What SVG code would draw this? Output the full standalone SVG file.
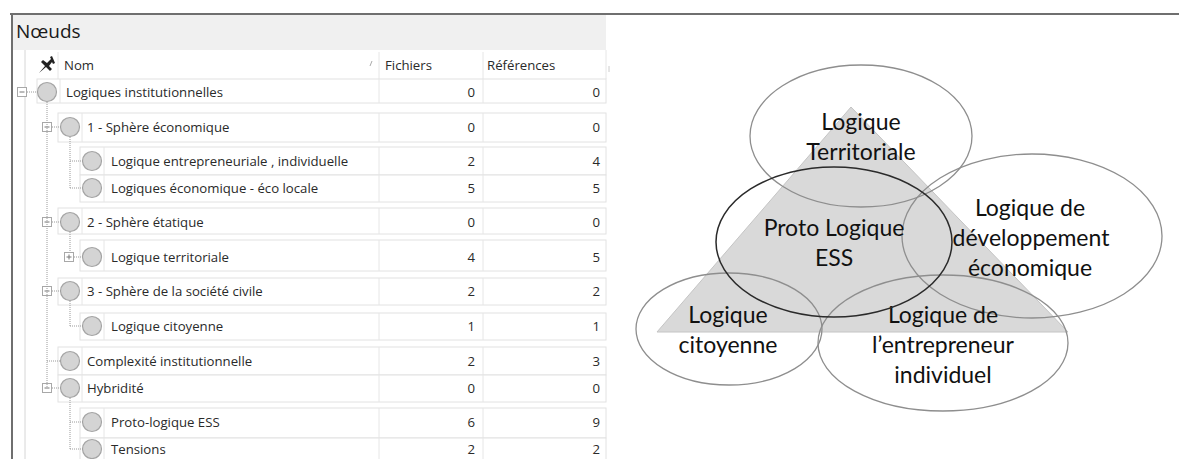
<svg xmlns="http://www.w3.org/2000/svg" width="1179" height="459" viewBox="0 0 1179 459">
<style>
.t{font-family:"Open Sans","Noto Sans",sans-serif;font-size:13.2px;fill:#2a2a2a}
.n{font-family:"Open Sans","Noto Sans",sans-serif;font-size:13.2px;fill:#2a2a2a;text-anchor:end}
.rb{fill:#fff;stroke:#e2e2e2;stroke-width:1}
.sep{stroke:#e6e6e6;stroke-width:1}
.ic{fill:#d4d4d4;stroke:#a4a4a4;stroke-width:1.2}
.ex{fill:#fff;stroke:#a8a8a8;stroke-width:1}
.exl{stroke:#777;stroke-width:1}
.tl{stroke:#9a9a9a;stroke-width:1;stroke-dasharray:1 1;fill:none}
.el{fill:none;stroke:#8e8e8e;stroke-width:1.3}
.lb{font-family:Lato,"Open Sans",sans-serif;font-size:23px;fill:#111;text-anchor:middle}
</style>
<rect width="1179" height="459" fill="#fff"/>
<!-- panel frame -->
<rect x="13" y="15" width="593" height="35" fill="#f0f0f0"/>
<line x1="10" y1="14" x2="1179" y2="14" stroke="#6f6f6f" stroke-width="2"/>
<line x1="12" y1="14" x2="12" y2="459" stroke="#6f6f6f" stroke-width="2"/>
<line x1="25" y1="50" x2="25" y2="459" stroke="#d6d6d6"/>
<text x="16" y="38" style="font-family:'Open Sans','Noto Sans',sans-serif;font-size:19px;fill:#1a1a1a">Nœuds</text>
<!-- column header -->
<g id="header">
<line class="sep" x1="58" y1="52" x2="58" y2="79"/>
<line class="sep" x1="379" y1="52" x2="379" y2="79"/>
<line class="sep" x1="483" y1="52" x2="483" y2="79"/>
<line class="sep" x1="606" y1="50" x2="606" y2="79"/>
<path d="M39 73 L45 66 L41 62 L43 60 L47 63 L51 59 L50 57 L52 56 L55 63 L53 64 L52 62 L49 66 L52 69 L50 71 L46 67 Z" fill="#222"/>
<text class="t" x="64" y="70">Nom</text>
<line x1="370" y1="66" x2="372" y2="61" stroke="#aaa" stroke-width="1"/>
<text class="t" x="385" y="70">Fichiers</text>
<text class="t" x="487" y="70">Références</text>
<line x1="609" y1="66" x2="609" y2="72" stroke="#ccc"/>
</g>
<!-- rows -->
<g id="row-logiques-institutionnelles">
<rect class="rb" x="37" y="79" width="569" height="24"/>
<line class="sep" x1="60" y1="79" x2="60" y2="103"/><line class="sep" x1="379" y1="79" x2="379" y2="103"/><line class="sep" x1="483" y1="79" x2="483" y2="103"/>
<rect class="ex" x="17.5" y="87.5" width="9" height="9"/><line class="exl" x1="19.5" y1="92" x2="24.5" y2="92"/>
<circle class="ic" cx="47" cy="92" r="9.5"/>
<text class="t" x="66" y="96.5">Logiques institutionnelles</text>
<text class="n" x="475" y="96.5">0</text><text class="n" x="600" y="96.5">0</text>
</g>
<g id="row-sphere-economique">
<rect class="rb" x="58" y="113" width="548" height="29"/>
<line class="sep" x1="82" y1="113" x2="82" y2="142"/><line class="sep" x1="379" y1="113" x2="379" y2="142"/><line class="sep" x1="483" y1="113" x2="483" y2="142"/>
<rect class="ex" x="42.5" y="122.5" width="9" height="9"/><line class="exl" x1="44.5" y1="127" x2="49.5" y2="127"/>
<circle class="ic" cx="70" cy="127" r="9.5"/>
<text class="t" x="87" y="131.5">1 - Sphère économique</text>
<text class="n" x="475" y="131.5">0</text><text class="n" x="600" y="131.5">0</text>
</g>
<g id="row-logique-entrepreneuriale">
<rect class="rb" x="80" y="147" width="526" height="28"/>
<line class="sep" x1="104" y1="147" x2="104" y2="175"/><line class="sep" x1="379" y1="147" x2="379" y2="175"/><line class="sep" x1="483" y1="147" x2="483" y2="175"/>
<circle class="ic" cx="92" cy="161" r="9.5"/>
<text class="t" x="111" y="165.5">Logique entrepreneuriale , individuelle</text>
<text class="n" x="475" y="165.5">2</text><text class="n" x="600" y="165.5">4</text>
</g>
<g id="row-logiques-economique">
<rect class="rb" x="80" y="175" width="526" height="27"/>
<line class="sep" x1="104" y1="175" x2="104" y2="202"/><line class="sep" x1="379" y1="175" x2="379" y2="202"/><line class="sep" x1="483" y1="175" x2="483" y2="202"/>
<circle class="ic" cx="92" cy="188" r="9.5"/>
<text class="t" x="111" y="192.5">Logiques économique - éco locale</text>
<text class="n" x="475" y="192.5">5</text><text class="n" x="600" y="192.5">5</text>
</g>
<g id="row-sphere-etatique">
<rect class="rb" x="58" y="208" width="548" height="26"/>
<line class="sep" x1="82" y1="208" x2="82" y2="234"/><line class="sep" x1="379" y1="208" x2="379" y2="234"/><line class="sep" x1="483" y1="208" x2="483" y2="234"/>
<rect class="ex" x="42.5" y="217.5" width="9" height="9"/><line class="exl" x1="44.5" y1="222" x2="49.5" y2="222"/>
<circle class="ic" cx="70" cy="222" r="9.5"/>
<text class="t" x="87" y="226.5">2 - Sphère étatique</text>
<text class="n" x="475" y="226.5">0</text><text class="n" x="600" y="226.5">0</text>
</g>
<g id="row-logique-territoriale">
<rect class="rb" x="80" y="240" width="526" height="31"/>
<line class="sep" x1="104" y1="240" x2="104" y2="271"/><line class="sep" x1="379" y1="240" x2="379" y2="271"/><line class="sep" x1="483" y1="240" x2="483" y2="271"/>
<rect class="ex" x="64.5" y="252.5" width="9" height="9"/><line class="exl" x1="66.5" y1="257" x2="71.5" y2="257"/><line class="exl" x1="69" y1="254.5" x2="69" y2="259.5"/>
<circle class="ic" cx="92" cy="257" r="9.5"/>
<text class="t" x="111" y="261.5">Logique territoriale</text>
<text class="n" x="475" y="261.5">4</text><text class="n" x="600" y="261.5">5</text>
</g>
<g id="row-sphere-societe-civile">
<rect class="rb" x="58" y="278" width="548" height="27"/>
<line class="sep" x1="82" y1="278" x2="82" y2="305"/><line class="sep" x1="379" y1="278" x2="379" y2="305"/><line class="sep" x1="483" y1="278" x2="483" y2="305"/>
<rect class="ex" x="42.5" y="286.5" width="9" height="9"/><line class="exl" x1="44.5" y1="291" x2="49.5" y2="291"/>
<circle class="ic" cx="70" cy="291" r="9.5"/>
<text class="t" x="87" y="295.5">3 - Sphère de la société civile</text>
<text class="n" x="475" y="295.5">2</text><text class="n" x="600" y="295.5">2</text>
</g>
<g id="row-logique-citoyenne">
<rect class="rb" x="80" y="313" width="526" height="27"/>
<line class="sep" x1="104" y1="313" x2="104" y2="340"/><line class="sep" x1="379" y1="313" x2="379" y2="340"/><line class="sep" x1="483" y1="313" x2="483" y2="340"/>
<circle class="ic" cx="92" cy="326" r="9.5"/>
<text class="t" x="111" y="330.5">Logique citoyenne</text>
<text class="n" x="475" y="330.5">1</text><text class="n" x="600" y="330.5">1</text>
</g>
<g id="row-complexite">
<rect class="rb" x="58" y="347" width="548" height="28"/>
<line class="sep" x1="82" y1="347" x2="82" y2="375"/><line class="sep" x1="379" y1="347" x2="379" y2="375"/><line class="sep" x1="483" y1="347" x2="483" y2="375"/>
<circle class="ic" cx="70" cy="361" r="9.5"/>
<text class="t" x="87" y="365.5">Complexité institutionnelle</text>
<text class="n" x="475" y="365.5">2</text><text class="n" x="600" y="365.5">3</text>
</g>
<g id="row-hybridite">
<rect class="rb" x="58" y="375" width="548" height="27"/>
<line class="sep" x1="82" y1="375" x2="82" y2="402"/><line class="sep" x1="379" y1="375" x2="379" y2="402"/><line class="sep" x1="483" y1="375" x2="483" y2="402"/>
<rect class="ex" x="42.5" y="383.5" width="9" height="9"/><line class="exl" x1="44.5" y1="388" x2="49.5" y2="388"/>
<circle class="ic" cx="70" cy="388" r="9.5"/>
<text class="t" x="87" y="392.5">Hybridité</text>
<text class="n" x="475" y="392.5">0</text><text class="n" x="600" y="392.5">0</text>
</g>
<g id="row-proto-logique">
<rect class="rb" x="80" y="408" width="526" height="30"/>
<line class="sep" x1="104" y1="408" x2="104" y2="438"/><line class="sep" x1="379" y1="408" x2="379" y2="438"/><line class="sep" x1="483" y1="408" x2="483" y2="438"/>
<circle class="ic" cx="92" cy="422" r="9.5"/>
<text class="t" x="111" y="426.5">Proto-logique ESS</text>
<text class="n" x="475" y="426.5">6</text><text class="n" x="600" y="426.5">9</text>
</g>
<g id="row-tensions">
<rect class="rb" x="80" y="438" width="526" height="25"/>
<line class="sep" x1="104" y1="438" x2="104" y2="459"/><line class="sep" x1="379" y1="438" x2="379" y2="459"/><line class="sep" x1="483" y1="438" x2="483" y2="459"/>
<circle class="ic" cx="92" cy="449" r="9.5"/>
<text class="t" x="111" y="453.5">Tensions</text>
<text class="n" x="475" y="453.5">2</text><text class="n" x="600" y="453.5">2</text>
</g>
<!-- tree connectors -->
<g id="connectors">
<path class="tl" d="M27 92 H37.5"/>
<path class="tl" d="M47 102 V388"/>
<path class="tl" d="M52 127 H60.5 M52 222 H60.5 M52 291 H60.5 M47 361 H60.5 M52 388 H60.5"/>
<path class="tl" d="M70 137 V188 M70 232 V252 M70 301 V326 M70 398 V449"/>
<path class="tl" d="M70 161 H82.5 M70 188 H82.5 M74 257 H82.5 M70 326 H82.5 M70 422 H82.5 M70 449 H82.5"/>
</g>
<!-- diagram -->
<g id="triangle">
<polygon points="851,107 657,332 1068,332" fill="#d9d9d9" stroke="#c4c4c4" stroke-width="1"/>
</g>
<g id="node-territoriale">
<ellipse class="el" cx="861" cy="136" rx="111" ry="71"/>
<text class="lb" x="861" y="130">Logique</text>
<text class="lb" x="861" y="160">Territoriale</text>
</g>
<g id="node-developpement">
<ellipse class="el" cx="1032" cy="236" rx="130" ry="82"/>
<text class="lb" x="1030" y="216">Logique de</text>
<text class="lb" x="1031" y="246">développement</text>
<text class="lb" x="1030" y="276">économique</text>
</g>
<g id="node-citoyenne">
<ellipse class="el" cx="729" cy="329" rx="93" ry="56"/>
<text class="lb" x="728" y="323">Logique</text>
<text class="lb" x="728" y="353">citoyenne</text>
</g>
<g id="node-entrepreneur">
<ellipse class="el" cx="943" cy="343" rx="125" ry="68"/>
<text class="lb" x="943" y="323">Logique de</text>
<text class="lb" x="943" y="353">l’entrepreneur</text>
<text class="lb" x="943" y="383">individuel</text>
</g>
<g id="node-proto-ess">
<ellipse cx="834" cy="242" rx="118" ry="75" fill="none" stroke="#2a2a2a" stroke-width="1.5"/>
<text class="lb" x="834" y="236">Proto Logique</text>
<text class="lb" x="834" y="266">ESS</text>
</g>
</svg>
